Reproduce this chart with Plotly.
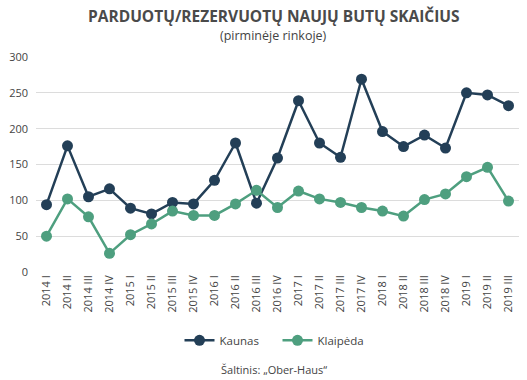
import plotly.graph_objects as go

categories = ["2014 I", "2014 II", "2014 III", "2014 IV",
              "2015 I", "2015 II", "2015 III", "2015 IV",
              "2016 I", "2016 II", "2016 III", "2016 IV",
              "2017 I", "2017 II", "2017 III", "2017 IV",
              "2018 I", "2018 II", "2018 III", "2018 IV",
              "2019 I", "2019 II", "2019 III"]
kaunas = [94, 176, 105, 116, 89, 81, 97, 95, 128, 180, 96, 159,
          239, 180, 160, 269, 196, 175, 191, 173, 250, 247, 232]
klaipeda = [50, 102, 77, 26, 52, 67, 85, 79, 79, 95, 114, 90,
            113, 102, 97, 90, 85, 78, 101, 109, 133, 146, 99]
y_ticks = [0, 50, 100, 150, 200, 250, 300]

FONT = "Open Sans"
GRAY = "#444444"

fig = go.Figure()
fig.add_trace(go.Scatter(x=categories, y=kaunas, name="Kaunas", mode="lines+markers",
                         line=dict(color="#233f57", width=2.5),
                         marker=dict(size=11, color="#233f57"), cliponaxis=False))
fig.add_trace(go.Scatter(x=categories, y=klaipeda, name="Klaipėda", mode="lines+markers",
                         line=dict(color="#4e9f7f", width=2.5),
                         marker=dict(size=11, color="#4e9f7f"), cliponaxis=False))

fig.update_layout(
    width=527, height=380,
    margin=dict(l=36, r=8, t=57, b=107.5, autoexpand=False),
    paper_bgcolor="white", plot_bgcolor="white",
    font=dict(family=FONT, color=GRAY, size=11),
    showlegend=True,
    legend=dict(orientation="h", x=0.5, xanchor="center", y=-0.318, yanchor="middle",
                font=dict(size=11.5, color=GRAY), itemwidth=30, tracegroupgap=0,
                entrywidth=53, entrywidthmode="pixels"),
    xaxis=dict(type="category", range=[-0.5, 22.5], showgrid=False, showline=False,
               tickangle=-90, ticks="", tickfont=dict(size=11, color=GRAY), zeroline=False,
               automargin=False),
    yaxis=dict(range=[0, 300], tickvals=y_ticks, showgrid=True, gridcolor="#dcdcdc",
               gridwidth=1.3, zeroline=False, showline=False, ticks="",
               tickfont=dict(size=11, color=GRAY), ticklabelstandoff=7, automargin=False),
    annotations=[
        dict(text="<b>PARDUOTŲ/REZERVUOTŲ NAUJŲ BUTŲ SKAIČIUS</b>", xref="paper", yref="paper",
             x=0.492, y=1 + (57 - 16) / 215.5, xanchor="center", yanchor="middle",
             showarrow=False, font=dict(size=15.5, color="#4a4a4a", family=FONT)),
        dict(text="(pirminėje rinkoje)", xref="paper", yref="paper",
             x=0.492, y=1 + (57 - 35) / 215.5, xanchor="center", yanchor="middle",
             showarrow=False, font=dict(size=12.5, color=GRAY, family=FONT)),
        dict(text="Šaltinis: „Ober-Haus“", xref="paper", yref="paper",
             x=0.492, y=(272.5 - 370) / 215.5, xanchor="center", yanchor="middle",
             showarrow=False, font=dict(size=11, color=GRAY, family=FONT)),
    ],
)

fig.write_html("out.html", config={"displayModeBar": False},
               post_script="document.body.style.margin='0';document.body.style.overflow='hidden';")
